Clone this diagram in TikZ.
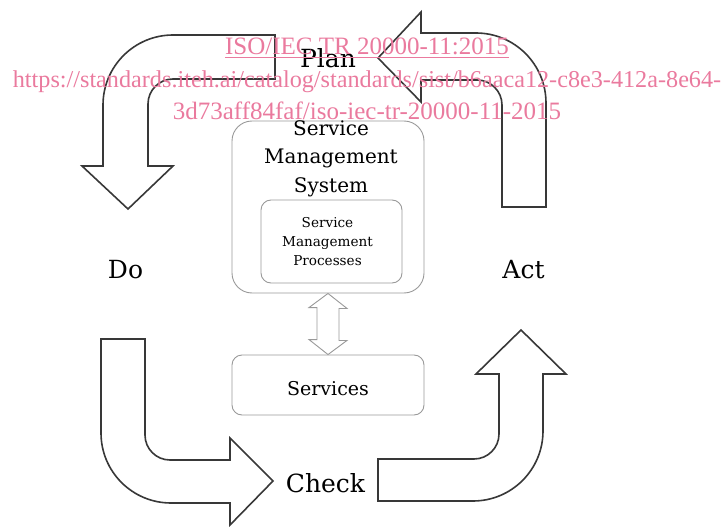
\documentclass[tikz,border=0pt]{standalone}
\usepackage{fontspec}
\setmainfont{DejaVu Serif}
\newfontfamily\wmfont{Liberation Serif}
\definecolor{wmpink}{RGB}{234,122,158}

\begin{document}
\begin{tikzpicture}[x=1pt,y=-1pt,
    bigarrow/.style={draw=black!78,line width=1.6pt,fill=white,line join=miter},
    greybox/.style={draw=black!40,line width=0.9pt,rounded corners=#1,inner sep=0pt},
    phase/.style={anchor=base,font=\fontsize{25}{30}\selectfont},
    wmline/.style={anchor=base,text=wmpink,font=\wmfont\fontsize{25}{30}\selectfont}]
        \useasboundingbox (0,0) rectangle (726,527);

        % the four turning arrows
        \draw[bigarrow] (275,35) -- (173,35) arc[start angle=-90,end angle=-180,radius=70]
          -- (103,166) -- (82,166) -- (128,209) -- (173,166) -- (148,166) -- (148,104)
          arc[start angle=180,end angle=270,radius=25] -- (275,79) -- cycle;
        \draw[bigarrow] (546,207) -- (546,103) arc[start angle=0,end angle=-90,radius=70]
          -- (421,33) -- (421,12) -- (378,58) -- (421,102) -- (421,80) -- (477,80)
          arc[start angle=-90,end angle=0,radius=25] -- (502,207) -- cycle;
        \draw[bigarrow] (101,339) -- (145,339) -- (145,435)
          arc[start angle=180,end angle=90,radius=25] -- (230,460) -- (230,438)
          -- (273,481) -- (230,525) -- (230,503) -- (171,503)
          arc[start angle=90,end angle=180,radius=70] -- cycle;
        \draw[bigarrow] (378,459) -- (474,459) arc[start angle=90,end angle=0,radius=25]
          -- (499,374) -- (476,374) -- (521,330) -- (566,374) -- (543,374) -- (543,431)
          arc[start angle=0,end angle=90,radius=70] -- (378,501) -- cycle;

        \node[phase] (plan) at (328,67) {Plan};
        \node[phase] (do) at (125.5,278) {Do};
        \node[phase] (act) at (523.5,278) {Act};
        \node[phase] (check) at (325.5,492) {Check};

        % management system and services
        \node[greybox=20pt,minimum width=192pt,minimum height=172pt] (sms) at (328,207) {};
        \node[greybox=10pt,minimum width=141pt,minimum height=83pt] (smp) at (331.5,241.5) {};
        \node[greybox=10pt,minimum width=192pt,minimum height=60pt] (svc) at (328,385) {};
        \node[anchor=base,align=center,font=\fontsize{20}{28.5}\selectfont] (smstext) at (331,192) {Service\\Management\\System};
        \node[anchor=base,align=center,font=\fontsize{13.6}{19}\selectfont] (smptext) at (327.5,265) {Service\\Management\\Processes};
        \node[anchor=base,font=\fontsize{19}{24}\selectfont] (svctext) at (328,395) {Services};

        \draw[draw=black!40,line width=0.9pt,fill=white] (sms.south) -- ++(19,15) -- ++(-8,0) -- ++(0,32) -- ++(8,0)
          -- (svc.north) -- ++(-19,-15) -- ++(8,0) -- ++(0,-32) -- ++(-8,0) -- cycle;

        \node[wmline] (wm1) at (367,55) {\underline{ISO/IEC TR 20000-11:2015}};
        \node[wmline,font=\wmfont\fontsize{24.2}{30}\selectfont] (wm2) at (367,88) {https://standards.iteh.ai/catalog/standards/sist/b6aaca12-c8e3-412a-8e64-};
        \node[wmline] (wm3) at (367,120) {3d73aff84faf/iso-iec-tr-20000-11-2015};
      \end{tikzpicture}
\end{document}
